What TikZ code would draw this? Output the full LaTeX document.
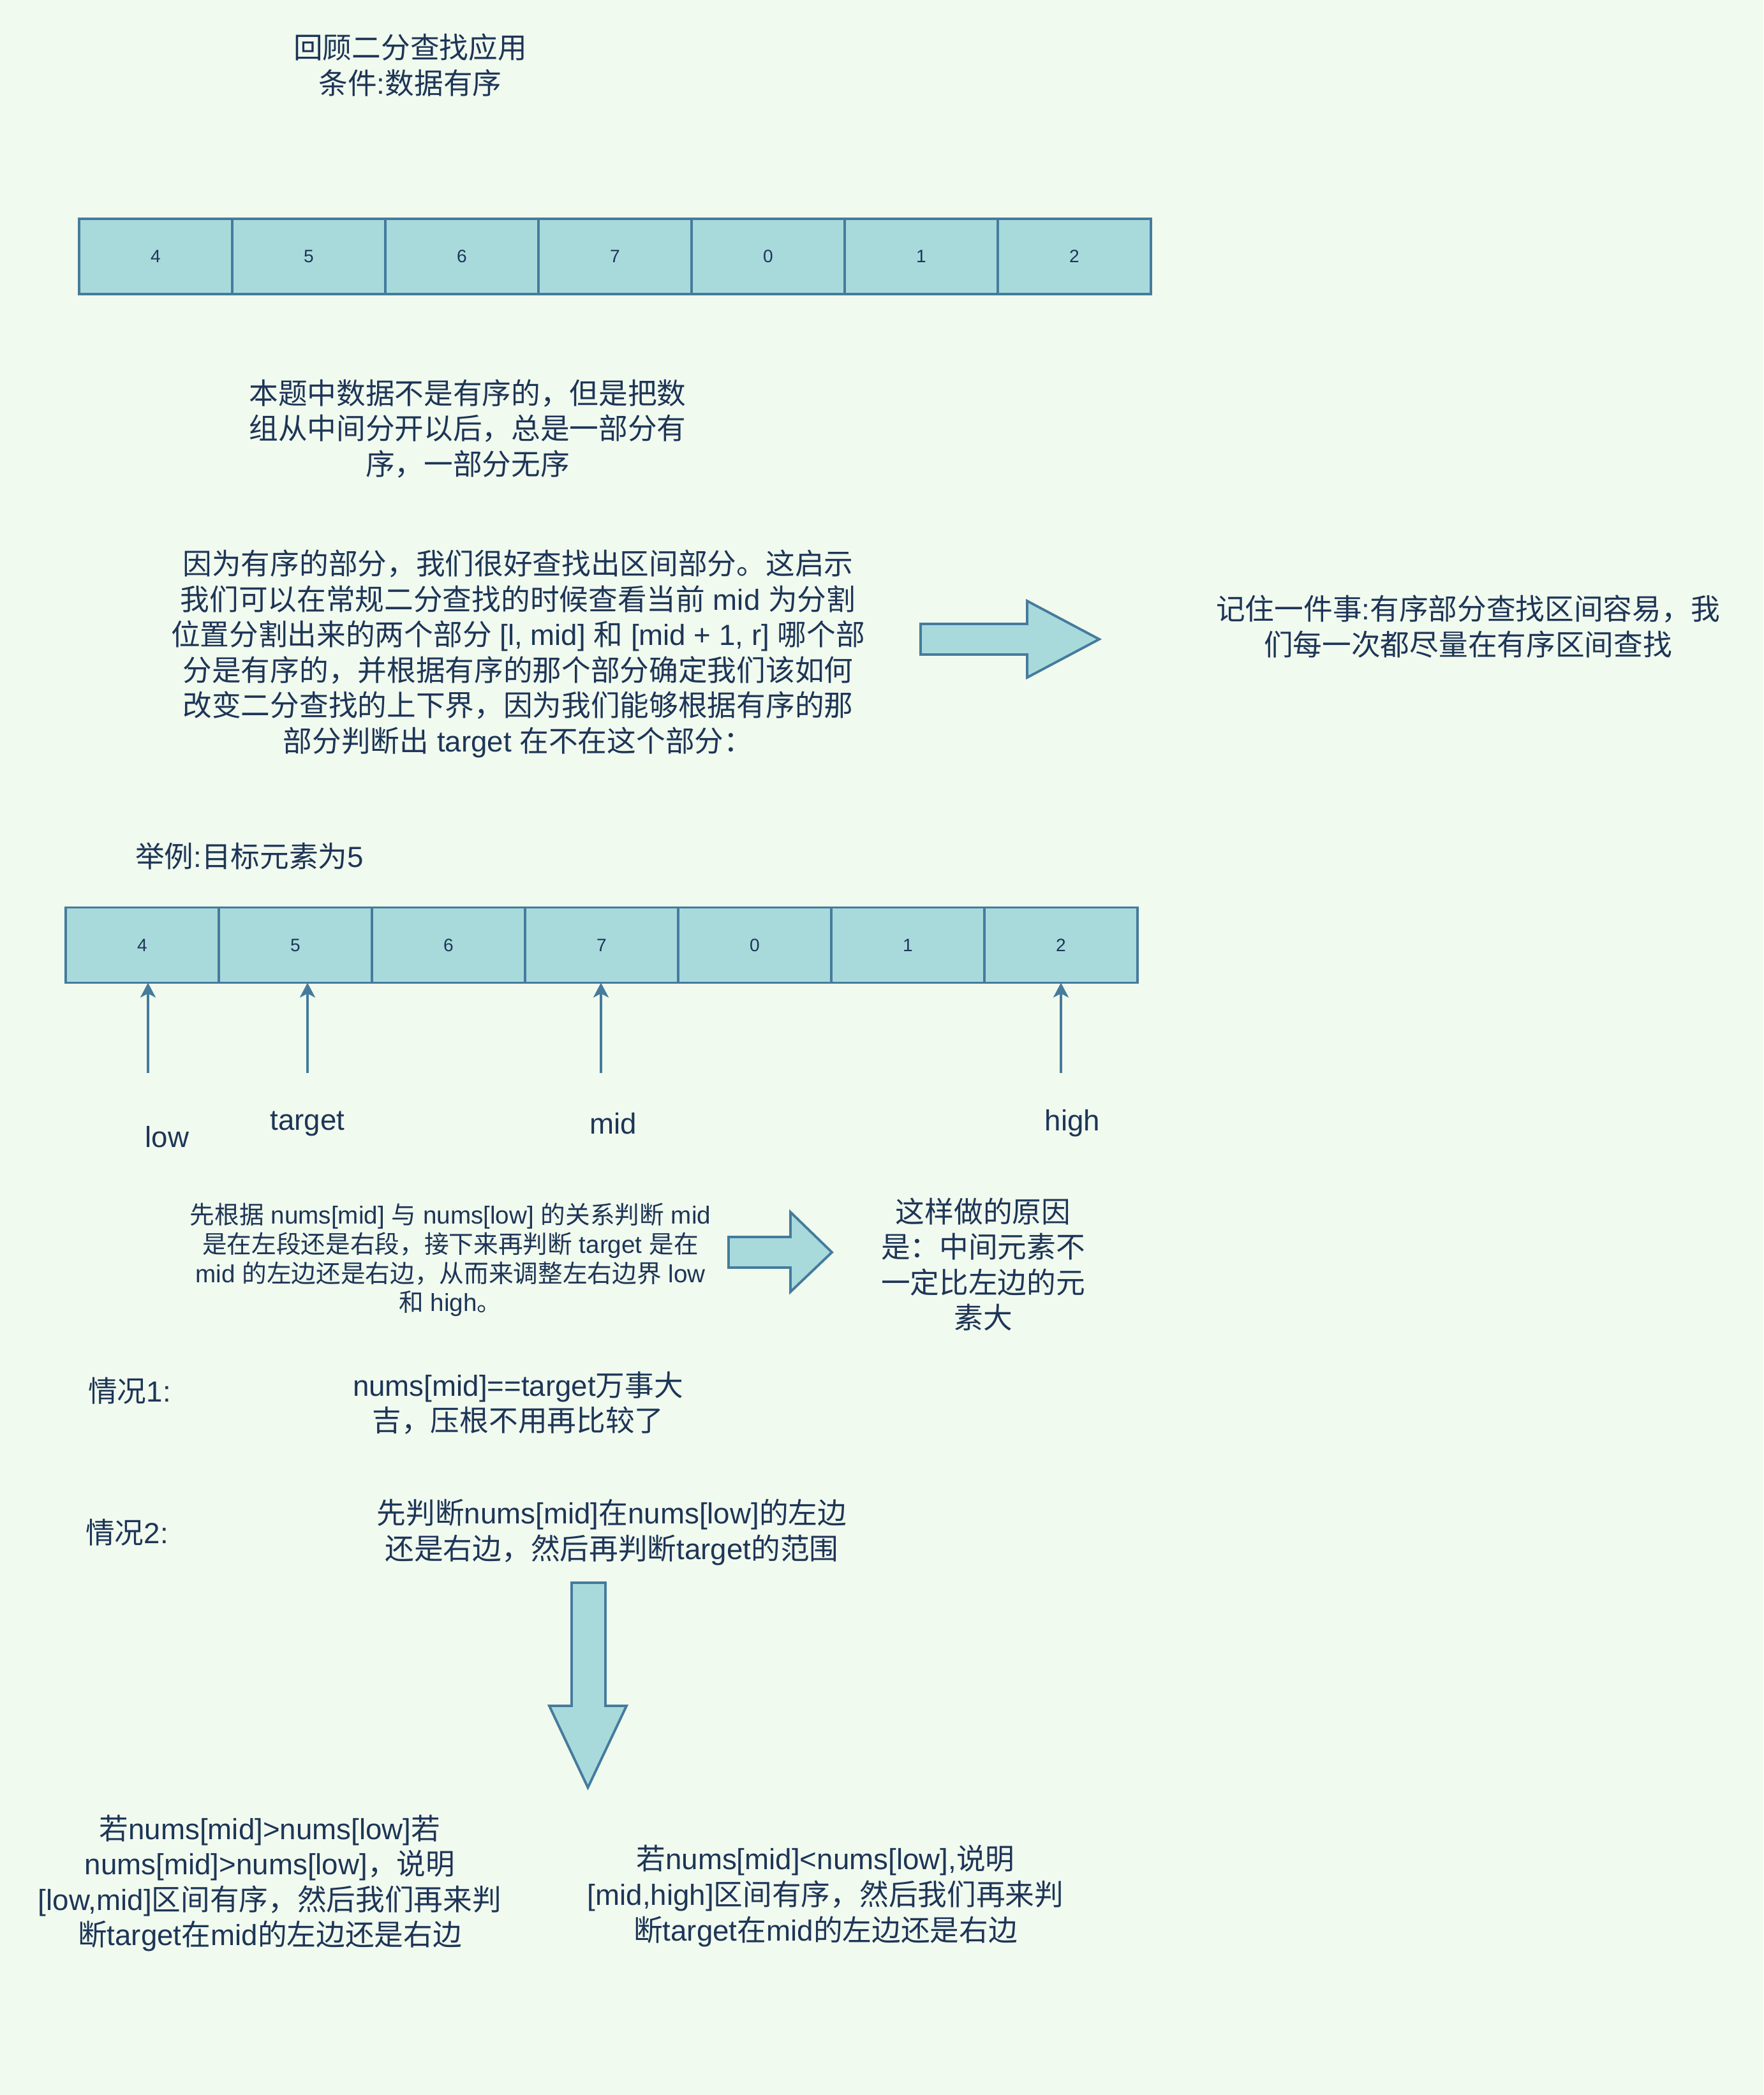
\documentclass[tikz,border=0pt]{standalone}
\usepackage{fontspec}
\setmainfont{Liberation Sans}
\newfontfamily\cjk{Noto Sans CJK SC}
% switch to the CJK family for runs of CJK characters
\XeTeXinterchartokenstate=1
\newXeTeXintercharclass\cjkclass
\newcount\cjkchar
\cjkchar="3000
\loop\ifnum\cjkchar<"A000 \XeTeXcharclass\cjkchar=\cjkclass \advance\cjkchar by 1 \repeat
\cjkchar="FF00
\loop\ifnum\cjkchar<"FFF0 \XeTeXcharclass\cjkchar=\cjkclass \advance\cjkchar by 1 \repeat
\XeTeXinterchartoks 0 \cjkclass = {\begingroup\cjk}
\XeTeXinterchartoks 4095 \cjkclass = {\begingroup\cjk}
\XeTeXinterchartoks \cjkclass 0 = {\endgroup}
\XeTeXinterchartoks \cjkclass 4095 = {\endgroup}
\usetikzlibrary{arrows.meta,positioning}
\definecolor{bgfill}{HTML}{F1FAEE}
\definecolor{cellfill}{HTML}{A8DADC}
\definecolor{cellline}{HTML}{457B9D}
\definecolor{inkcol}{HTML}{1D3557}

\tikzset{
  cell/.style={draw=cellline,fill=cellfill,line width=1.1pt,outer sep=0pt,inner sep=0pt,
    minimum width=2.4cm,minimum height=1.18cm,text=inkcol,font=\fontsize{8}{10}\selectfont},
  note/.style={align=center,text=inkcol,inner sep=0pt,font=\fontsize{13}{15.8}\selectfont},
  smallnote/.style={note,font=\fontsize{11}{13}\selectfont},
  blockarrow/.style={draw=cellline,fill=cellfill,line width=1.1pt,line join=miter},
  pointer/.style={draw=cellline,line width=1.1pt,-{Stealth[length=2.3mm,width=2.4mm,inset=0.6mm]}},
}

\begin{document}
\begin{tikzpicture}
\fill[bgfill] (0,0) rectangle (27.64,-32.84);

% heading
\node[note] (title) at (6.43,-1.02) {回顾二分查找应用\\条件:数据有序};

% first array
\node[cell] (a1) at (2.44,-4.02) {4};
\foreach \v [count=\i] in {5,6,7,0,1,2} {
  \pgfmathtruncatemacro\j{\i+1}
  \node[cell,right=0pt of a\i] (a\j) {\v};
}

\node[note] (partly) at (7.33,-6.72) {本题中数据不是有序的，但是把数\\组从中间分开以后，总是一部分有\\序，一部分无序};
\node[note] (idea) at (8.12,-10.25) {因为有序的部分，我们很好查找出区间部分。这启示\\我们可以在常规二分查找的时候查看当前 mid 为分割\\位置分割出来的两个部分 [l, mid] 和 [mid + 1, r] 哪个部\\分是有序的，并根据有序的那个部分确定我们该如何\\改变二分查找的上下界，因为我们能够根据有序的那\\部分判断出 target 在不在这个部分：};

\draw[blockarrow] (14.43,-9.78) -- (16.10,-9.78) -- (16.10,-9.42) -- (17.23,-10.02)
  -- (16.10,-10.62) -- (16.10,-10.26) -- (14.43,-10.26) -- cycle;
\node[note] (remember) at (23.01,-9.82) {记住一件事:有序部分查找区间容易，我\\们每一次都尽量在有序区间查找};

% example
\node[note] (example) at (3.91,-13.42) {举例:目标元素为5};
\node[cell] (b1) at (2.23,-14.815) {4};
\foreach \v [count=\i] in {5,6,7,0,1,2} {
  \pgfmathtruncatemacro\j{\i+1}
  \node[cell,right=0pt of b\i] (b\j) {\v};
}

\coordinate (lowtail) at (2.32,-16.82);
\coordinate (targettail) at (4.82,-16.82);
\coordinate (midtail) at (9.42,-16.82);
\coordinate (hightail) at (16.63,-16.82);
\draw[pointer] (lowtail) -- (lowtail |- b1.south);
\draw[pointer] (targettail) -- (targettail |- b2.south);
\draw[pointer] (midtail) -- (midtail |- b4.south);
\draw[pointer] (hightail) -- (hightail |- b7.south);

\node[note] (lowlbl) at (2.62,-17.82) {low};
\node[note] (targetlbl) at (4.82,-17.61) {target};
\node[note] (midlbl) at (9.61,-17.61) {mid};
\node[note] (highlbl) at (16.81,-17.61) {high};

\node[smallnote] (howto) at (7.06,-19.75) {先根据 nums[mid] 与 nums[low] 的关系判断 mid\\是在左段还是右段，接下来再判断 target 是在\\mid 的左边还是右边，从而来调整左右边界 low\\和 high。};
\draw[blockarrow] (11.42,-19.39) -- (12.39,-19.39) -- (12.39,-19.00) -- (13.04,-19.63)
  -- (12.39,-20.25) -- (12.39,-19.87) -- (11.42,-19.87) -- cycle;
\node[note] (reason) at (15.41,-19.82) {这样做的原因\\是：中间元素不\\一定比左边的元\\素大};

% cases
\node[note] (case1) at (2.03,-21.80) {情况1:};
\node[note] (case1txt) at (8.12,-21.99) {nums[mid]==target万事大\\吉，压根不用再比较了};
\node[note] (case2) at (1.99,-24.02) {情况2:};
\node[note] (case2txt) at (9.59,-24.02) {先判断nums[mid]在nums[low]的左边\\还是右边，然后再判断target的范围};

\draw[blockarrow] (8.96,-24.81) -- (9.49,-24.81) -- (9.49,-26.74) -- (9.82,-26.74)
  -- (9.215,-28.02) -- (8.61,-26.74) -- (8.96,-26.74) -- cycle;

\node[note] (leftsorted) at (4.23,-29.52) {若nums[mid]>nums[low]若\\nums[mid]>nums[low]，说明\\{}[low,mid]区间有序，然后我们再来判\\断target在mid的左边还是右边};
\node[note] (rightsorted) at (12.94,-29.72) {若nums[mid]<nums[low],说明\\{}[mid,high]区间有序，然后我们再来判\\断target在mid的左边还是右边};
\end{tikzpicture}
\end{document}
